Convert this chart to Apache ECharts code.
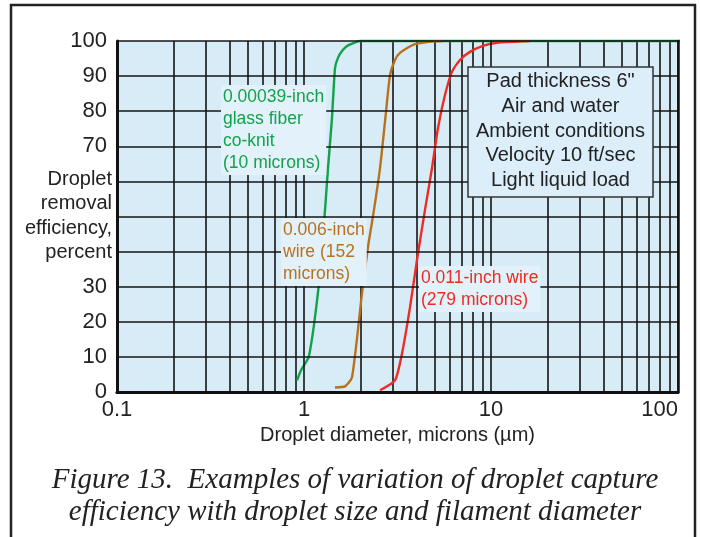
<!DOCTYPE html>
<html>
<head>
<meta charset="utf-8">
<script src="https://cdn.jsdelivr.net/npm/echarts@6/dist/echarts.min.js"></script>
<style>html,body{margin:0;padding:0;background:#fff}#c{width:701px;height:537px}</style>
</head>
<body>
<div id="c"></div>
<script>
// ---- data ----
const xTickValues = [0.1, 1, 10, 100];
const minorXLines = [0.2,0.3,0.4,0.5,0.6,0.7,0.8,0.9,2,3,4,5,6,7,8,9,20,30,40,50,60,70,80,90];
const yHiddenLabels = [40, 50, 60];
const greenFiber = [[0.918,3.3],[0.964,6.2],[1.063,10.2],[1.203,31.0],[1.295,51.8],[1.344,63.8],[1.411,78.0],[1.465,92.3],[1.519,95.2],[1.60,97.2],[1.698,98.6],[1.85,99.5],[1.993,100],[10,100],[100,100],[120,100]];
const brownWire = [[1.465,1.3],[1.656,1.6],[1.806,4.2],[2.042,28.1],[2.199,41.3],[2.367,51.9],[2.55,63.8],[2.745,79.8],[2.884,90.3],[3.066,94.6],[3.262,96.6],[3.828,98.9],[4.55,99.7],[5.54,100]];
const redWire = [[2.55,0.5],[3.066,3.3],[3.343,11.0],[3.688,24.1],[4.02,37.6],[4.436,51.9],[4.836,63.8],[5.206,75.2],[5.675,84.6],[6.184,91.2],[6.826,94.6],[7.72,96.9],[9.06,98.6],[10.76,99.5],[13.4,99.8],[16.2,100]];
const yTitleLines = ['Droplet','removal','efficiency,','percent'];
const xTitle = 'Droplet diameter, microns (\u00b5m)';
const greenLabel = ['0.00039-inch','glass fiber','co-knit','(10 microns)'];
const brownLabel = ['0.006-inch','wire (152','microns)'];
const redLabel = ['0.011-inch wire','(279 microns)'];
const conditions = ['Pad thickness 6"','Air and water','Ambient conditions','Velocity 10 ft/sec','Light liquid load'];
const caption = ['Figure 13.  Examples of variation of droplet capture','efficiency with droplet size and filament diameter'];

const SANS = '"Liberation Sans", Arial, Helvetica, sans-serif';
const PLOT_BG = '#d8ecf8';
const LABEL_BG = '#e2f1fa';
const GRID_C = '#151515';

const chart = echarts.init(document.getElementById('c'), null, {renderer:'canvas'});

function txt(x, y, lines, color, size, lh, align, bg) {
  const s = {
    text: lines.join('\n'), fill: color, font: size + 'px ' + SANS,
    align: align, textAlign: align, verticalAlign: 'top', textVerticalAlign: 'top',
    lineHeight: lh
  };
  if (bg) { s.backgroundColor = bg; s.padding = [1, 2, 1, 2]; }
  return {type:'text', x:x, y:y, z:50, style:s};
}

const option = {
  animation: false,
  backgroundColor: '#fff',
  grid: {left:117, top:41, width:561, height:351, show:true, backgroundColor:PLOT_BG, borderWidth:0},
  xAxis: [{
    type:'log', logBase:10, min:0.1, max:100,
    name: xTitle, nameLocation:'middle', nameGap:31,
    nameTextStyle:{fontFamily:SANS, fontSize:20, color:'#222'},
    axisLine:{show:true, lineStyle:{color:'#111', width:3}},
    axisTick:{show:false},
    axisLabel:{fontFamily:SANS, fontSize:22, color:'#222', margin:7, alignMaxLabel:'right',
      formatter: v => String(v)},
    splitLine:{show:true, lineStyle:{color:GRID_C, width:1.6}},
    z: 10
  },{
    type:'log', logBase:10, min:0.1, max:100, position:'top',
    axisLine:{show:true, lineStyle:{color:'#111', width:2.5}},
    axisTick:{show:false}, axisLabel:{show:false}, splitLine:{show:false}, z:10
  }],
  yAxis: [{
    type:'value', min:0, max:100, interval:10,
    axisLine:{show:true, lineStyle:{color:'#111', width:3}},
    axisTick:{show:false},
    axisLabel:{fontFamily:SANS, fontSize:22, color:'#222', margin:10,
      formatter: v => yHiddenLabels.indexOf(v) >= 0 ? '' : String(v)},
    splitLine:{show:true, lineStyle:{color:GRID_C, width:1.6}},
    z: 10
  },{
    type:'value', min:0, max:100, position:'right',
    axisLine:{show:true, lineStyle:{color:'#111', width:2.5}},
    axisTick:{show:false}, axisLabel:{show:false}, splitLine:{show:false}, z:10
  }],
  series: [
    {
      type:'line', data:[], z:1, silent:true,
      markLine:{symbol:'none', silent:true, label:{show:false},
        lineStyle:{color:GRID_C, width:1.6, type:'solid'},
        data: minorXLines.map(v => ({xAxis:v}))}
    },
    {type:'line', data:greenFiber, showSymbol:false, clip:false, z:5, smooth:0.2,
      lineStyle:{color:'#12a34a', width:2.4}},
    {type:'line', data:brownWire, showSymbol:false, z:5, smooth:0.2,
      lineStyle:{color:'#b8721c', width:2.4}},
    {type:'line', data:redWire, showSymbol:false, z:5, smooth:0.2,
      lineStyle:{color:'#ee2b24', width:2.4}}
  ],
  graphic: [
    {type:'rect', shape:{x:11, y:5, width:684, height:545}, style:{fill:'none', stroke:'#222', lineWidth:2.5}, z:0},
    txt(112, 167, yTitleLines, '#222', 20, 24.5, 'right'),
    txt(221, 85, greenLabel, '#12a34a', 17.5, 22, 'left', LABEL_BG),
    txt(281, 218, brownLabel, '#b8721c', 17.5, 22, 'left', LABEL_BG),
    txt(419, 266, redLabel, '#ee2b24', 17.5, 22, 'left', LABEL_BG),
    {type:'rect', shape:{x:468, y:67, width:185, height:130}, style:{fill:'#dbeef9', stroke:'#333', lineWidth:1.5}, z:40},
    txt(560.5, 69, conditions, '#222', 20, 24.8, 'center'),
    {type:'text', x:355, y:464, z:50, style:{text:caption.join('\n'), fill:'#222',
      font:'italic 29px "Liberation Serif", "Times New Roman", serif',
      align:'center', textAlign:'center', verticalAlign:'top', textVerticalAlign:'top', lineHeight:32}}
  ]
};
chart.setOption(option);
</script>
</body>
</html>
